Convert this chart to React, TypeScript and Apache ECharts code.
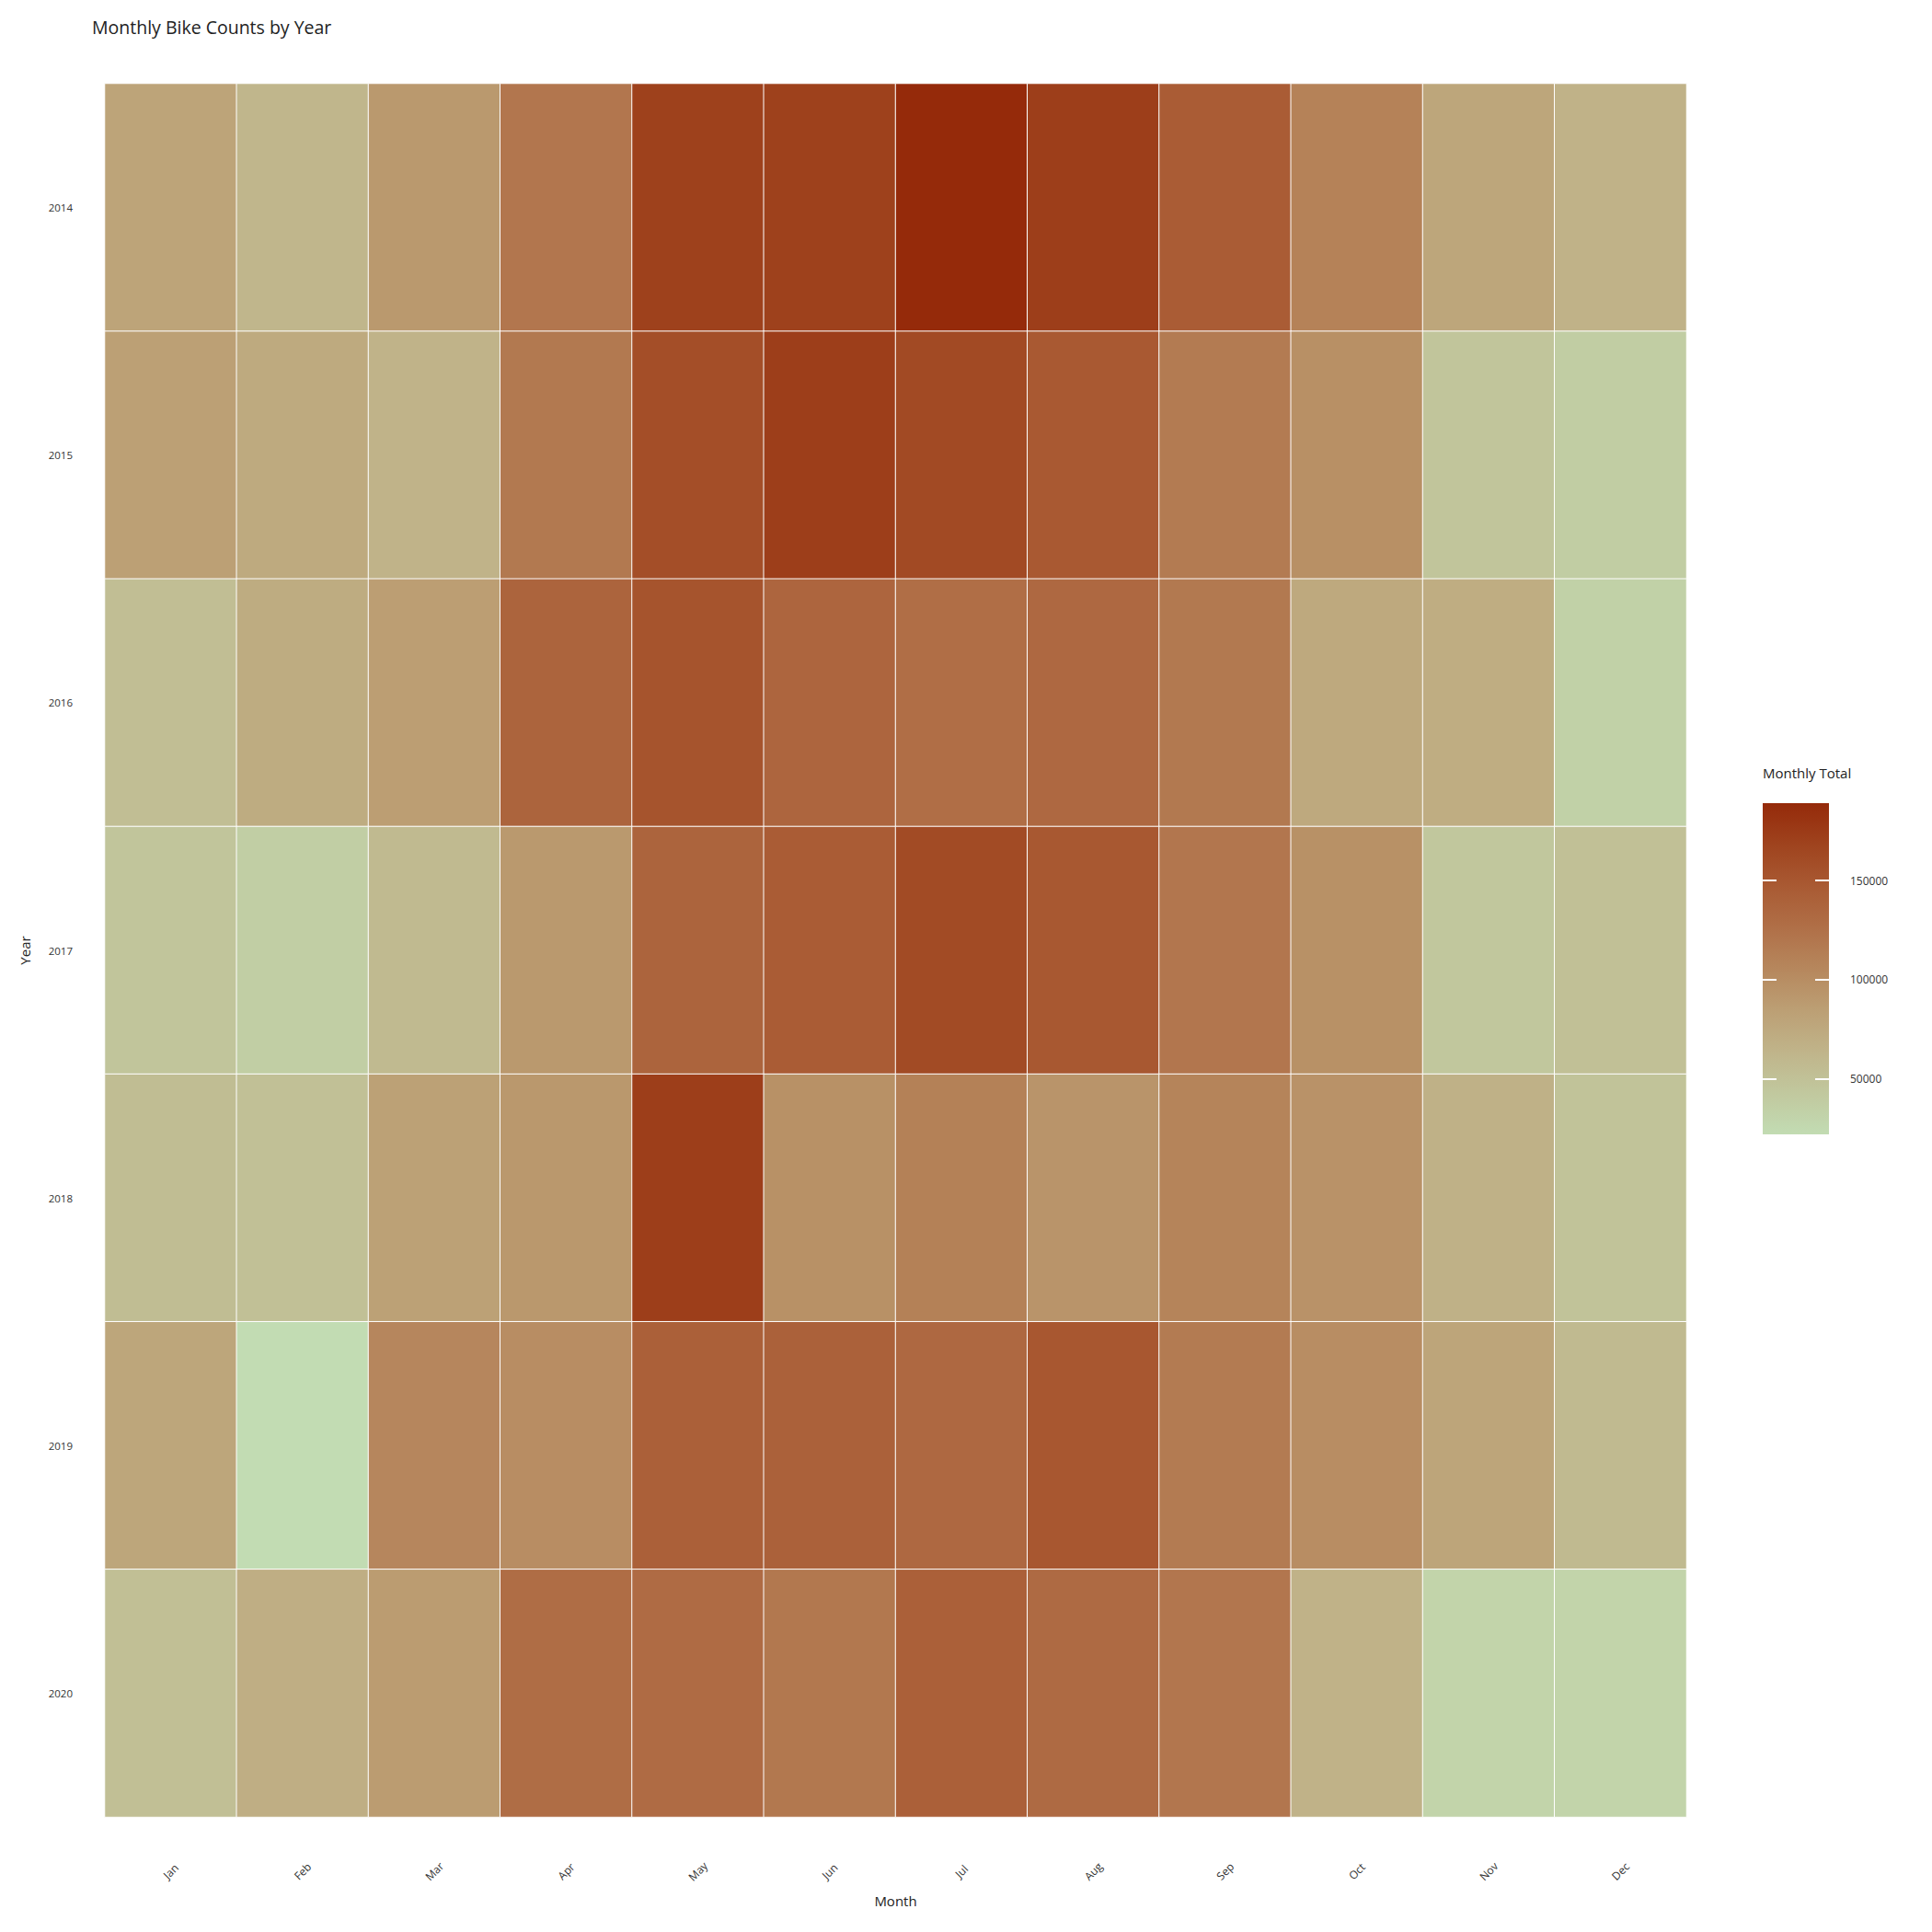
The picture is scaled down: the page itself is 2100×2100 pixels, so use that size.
import React, { useEffect, useRef } from "react";
import * as echarts from "echarts";

const months = ["Jan", "Feb", "Mar", "Apr", "May", "Jun", "Jul", "Aug", "Sep", "Oct", "Nov", "Dec"];
const years = ["2014", "2015", "2016", "2017", "2018", "2019", "2020"];

const v2014 = [80000, 62000, 90000, 120000, 170000, 170000, 188500, 172000, 145000, 110000, 78000, 66000];
const v2015 = [84000, 74000, 65000, 118000, 158000, 172000, 162000, 148000, 116000, 98000, 46000, 38000];
const v2016 = [53000, 72000, 86000, 137000, 153000, 136000, 127000, 133000, 118000, 75000, 71000, 34000];
const v2017 = [46000, 37000, 58000, 90000, 137000, 145000, 161000, 149000, 120000, 97000, 44000, 51000];
const v2018 = [55000, 51000, 83000, 91000, 172000, 97000, 111000, 94000, 108000, 96000, 67000, 48000];
const v2019 = [78000, 22500, 106000, 100000, 141000, 140000, 133000, 150000, 116000, 100000, 79000, 58000];
const v2020 = [52000, 70000, 87000, 128000, 130000, 119000, 141000, 131000, 120000, 66000, 31000, 31000];
const yearValues = [v2014, v2015, v2016, v2017, v2018, v2019, v2020];

const scaleMin = 22222;
const scaleMax = 188889;
const legendTicks = [50000, 100000, 150000];
const palette = ["#c2dcb3", "#c1c89e", "#c0b48a", "#bc9f74", "#b6875d", "#b06f47", "#a95a33", "#9f431e", "#952a0a"];

const FONT = "Open Sans";

export default function App() {
  const ref = useRef<HTMLDivElement>(null);
  useEffect(() => {
    if (!ref.current) return;
    const chart = echarts.init(ref.current, null, { renderer: "svg" });
    const data: [number, number, number][] = [];
    yearValues.forEach((row, yi) => row.forEach((v, mi) => data.push([mi, yi, v])));

    const legendLeft = 1916, legendTop = 873, legendW = 72, legendH = 360;

    chart.setOption({
      animation: false,
      backgroundColor: "#ffffff",
      textStyle: { fontFamily: FONT },
      title: {
        text: "Monthly Bike Counts by Year",
        left: 95,
        top: 14,
        textStyle: { fontFamily: FONT, fontSize: 19.5, fontWeight: "normal", color: "#222" },
      },
      grid: [
        { left: 114, right: 267, top: 91, bottom: 125 },
        { left: legendLeft, top: legendTop, width: legendW, height: legendH },
      ],
      xAxis: [
        {
          type: "category",
          gridIndex: 0,
          data: months,
          name: "Month",
          nameLocation: "middle",
          nameGap: 83,
          nameTextStyle: { fontFamily: FONT, fontSize: 15, color: "#222" },
          axisLine: { show: false },
          axisTick: { show: false },
          splitLine: { show: false },
          axisLabel: {
            rotate: 45,
            margin: 59,
            align: "center",
            verticalAlign: "middle",
            fontFamily: FONT,
            fontSize: 12,
            color: "#333",
          },
        },
        { type: "value", gridIndex: 1, show: false, min: 0, max: 1 },
      ],
      yAxis: [
        {
          type: "category",
          gridIndex: 0,
          data: years,
          inverse: true,
          name: "Year",
          nameLocation: "middle",
          nameGap: 80,
          nameRotate: 90,
          nameTextStyle: { fontFamily: FONT, fontSize: 15, color: "#222" },
          axisLine: { show: false },
          axisTick: { show: false },
          splitLine: { show: false },
          axisLabel: { margin: 35, fontFamily: FONT, fontSize: 11.5, color: "#333" },
        },
        {
          type: "value",
          gridIndex: 1,
          position: "right",
          min: scaleMin,
          max: scaleMax,
          axisLine: { show: false },
          splitLine: { show: false },
          axisTick: { show: false },
          axisLabel: {
            show: true,
            margin: 23,
            fontFamily: FONT,
            fontSize: 12,
            color: "#333",
            customValues: legendTicks,
            formatter: (v: number) => String(v),
          },
        },
      ],
      visualMap: {
        show: false,
        type: "continuous",
        min: scaleMin,
        max: scaleMax,
        seriesIndex: 0,
        dimension: 2,
        inRange: { color: palette },
      },
      graphic: [
        {
          type: "text",
          left: legendLeft,
          top: 832,
          style: { text: "Monthly Total", fontFamily: FONT, fontSize: 15, fill: "#222" },
        },
        {
          type: "rect",
          left: legendLeft,
          top: legendTop,
          z: -1,
          shape: { width: legendW, height: legendH },
          style: {
            fill: new echarts.graphic.LinearGradient(
              0, 0, 0, 1,
              palette
                .slice()
                .reverse()
                .map((c, i) => ({ offset: i / (palette.length - 1), color: c }))
            ),
          },
        },
      ],
      series: [
        {
          type: "heatmap",
          xAxisIndex: 0,
          yAxisIndex: 0,
          data,
          itemStyle: { borderColor: "#ffffff", borderWidth: 1 },
          emphasis: { disabled: true },
        },
        {
          type: "custom",
          xAxisIndex: 1,
          yAxisIndex: 1,
          z: 10,
          silent: true,
          data: legendTicks.map((t) => [0, t]),
          renderItem: (params: any, api: any) => {
            const left = api.coord([0, api.value(1)]);
            const right = api.coord([1, api.value(1)]);
            const len = 15;
            const style = { stroke: "#ffffff", lineWidth: 2 };
            return {
              type: "group",
              children: [
                { type: "line", shape: { x1: left[0], y1: left[1], x2: left[0] + len, y2: left[1] }, style },
                { type: "line", shape: { x1: right[0] - len, y1: right[1], x2: right[0], y2: right[1] }, style },
              ],
            };
          },
        },
      ],
    });
    return () => chart.dispose();
  }, []);
  return <div ref={ref} style={{ position: "absolute", left: 0, top: 0, width: 2100, height: 2100 }} />;
}
